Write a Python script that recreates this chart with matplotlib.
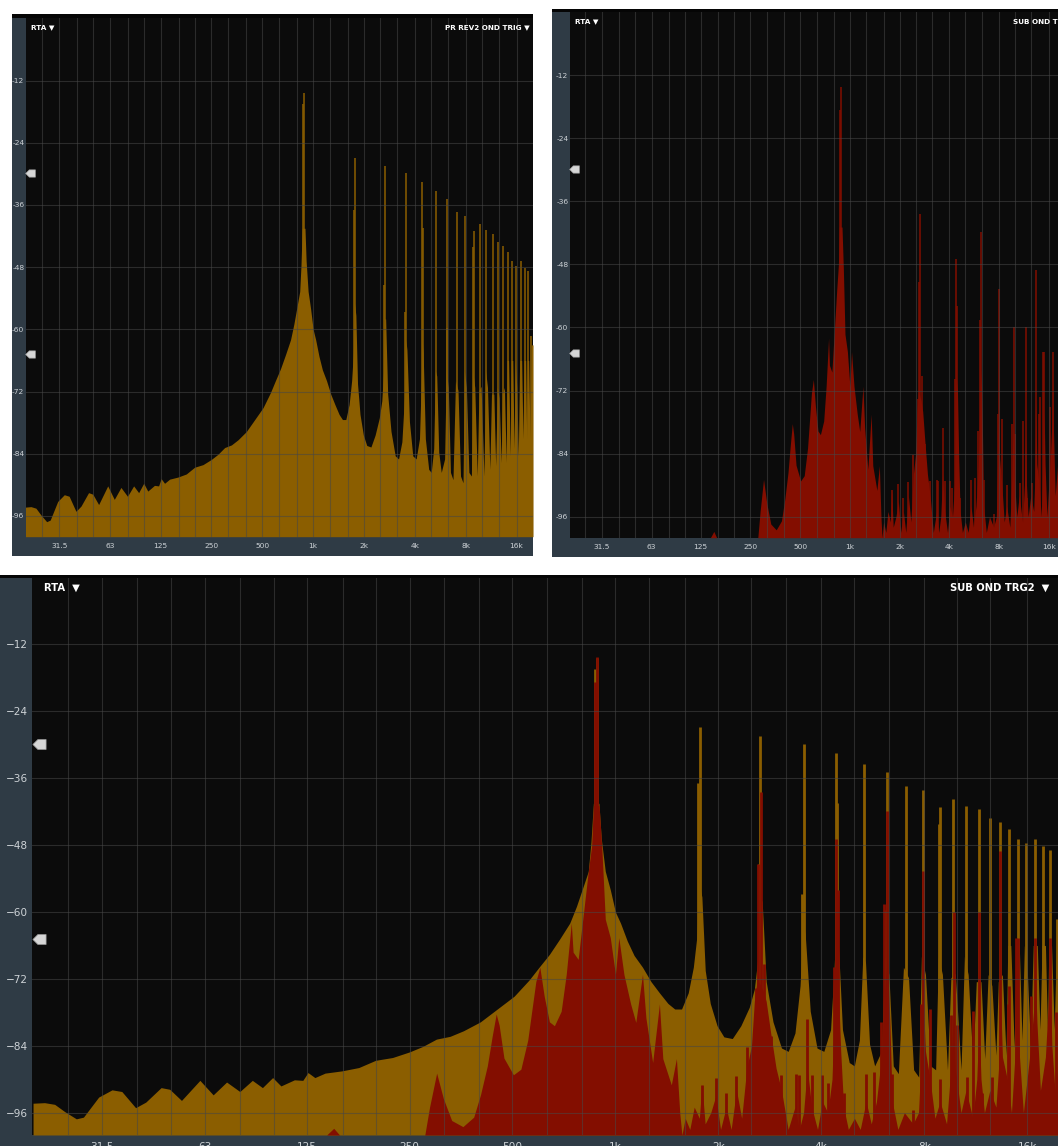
import numpy as np
import matplotlib
matplotlib.use("Agg")
from matplotlib import pyplot as plt
from matplotlib.path import Path
from matplotlib.ticker import NullFormatter
import matplotlib.transforms as mtransforms

W, H = 1058, 1146

# grid / ticks
grid_freqs = [25, 31.5, 40, 50, 63, 80, 100, 125, 160, 200, 250, 315, 400, 500, 630, 800,
              1000, 1250, 1600, 2000, 2500, 3150, 4000, 5000, 6300, 8000, 10000, 12500, 16000]
label_freqs = [31.5, 63, 125, 250, 500, 1000, 2000, 4000, 8000, 16000]
freq_labels = ["31.5", "63", "125", "250", "500", "1k", "2k", "4k", "8k", "16k"]
db_ticks = [-12, -24, -36, -48, -60, -72, -84, -96]
marker_levels = [-29.8, -64.8]

# orange trace (PR REV2 OND TRIG) - body outline
orange_f = [19.8, 21.4, 22.9, 24.5, 26.5, 27.8, 30.8, 33.7, 36.0, 39.5, 42.3, 46.9, 49.7, 53.8,
            60.9, 66.6, 72.9, 79.7, 86.7, 92.8, 99.4, 105.1, 115.1, 121.8, 126.1, 132.1, 141.5,
            158.4, 177.6, 198.9, 222.9, 249.7, 273.5, 299.6, 328.4, 359.5, 402.8, 451.3, 505.6,
            559, 598, 641, 686, 735, 769, 805, 833, 848, 862, 895, 909, 934, 966, 1000, 1035,
            1083, 1134, 1200, 1271, 1345, 1424, 1491, 1561, 1633, 1690, 1729, 1760, 1790, 1831,
            1894, 1983, 2076, 2197, 2327, 2463, 2549, 2608, 2650, 2686, 2761, 2890, 3060, 3202,
            3351, 3468, 3540, 3590, 3714, 3887, 4069, 4259, 4358, 4420, 4479, 4614, 4829, 4997,
            5171, 5291, 5388, 5537, 5730, 5998, 6136, 6306, 6496, 6723, 6957, 7199, 7450, 7709,
            7851, 8069, 8350, 8641, 8800, 9044, 9359, 9575, 9863, 10252, 10489, 10755, 11105,
            11361, 11730, 12027, 12305, 12617, 12967, 13177, 13542, 13886, 14045, 14337, 14668,
            14870, 15179, 15458, 15708, 16037, 16370, 16672, 17136, 17452, 17693, 18101, 18351,
            18519, 18861, 19206, 19560, 20010]
orange_db = [-94.3, -94.2, -94.5, -95.8, -97.1, -96.8, -93.2, -91.9, -92.2, -95.1, -94.1, -91.5,
             -91.8, -93.8, -90.2, -92.8, -90.5, -92.2, -90.2, -91.5, -89.7, -91.2, -90.1, -90.2,
             -88.8, -89.7, -88.9, -88.5, -87.9, -86.6, -86.1, -85.1, -84.1, -82.8, -82.3, -81.3,
             -79.7, -77.4, -75.1, -72.2, -69.9, -67.6, -64.9, -62.0, -59.0, -55.4, -52.7, -47.5,
             -40.5, -40.5, -46.8, -52.7, -56.0, -60.0, -62.0, -65.2, -67.8, -69.9, -72.5, -74.5,
             -76.4, -77.4, -77.4, -74.5, -69.9, -64.6, -55.0, -57.3, -70.5, -76.4, -80.4, -82.4,
             -82.7, -80.4, -77.1, -73.8, -68.5, -58.0, -58.0, -72.5, -79.7, -84.4, -85.0, -81.7,
             -73.2, -62.0, -64.0, -77.8, -84.4, -85.0, -81.1, -70.5, -62.0, -64.6, -81.1, -87.0,
             -87.6, -83.0, -68.0, -69.0, -83.7, -87.6, -85.0, -67.9, -71.2, -87.6, -89.0, -69.9,
             -71.8, -88.3, -89.6, -68.0, -71.2, -87.6, -88.3, -68.0, -71.2, -88.3, -71.8, -71.0,
             -88.3, -68.0, -71.2, -87.0, -72.5, -72.5, -86.3, -71.2, -73.2, -85.7, -72.5, -71.2,
             -85.7, -66.0, -66.0, -84.4, -66.0, -66.0, -83.0, -66.0, -71.2, -84.4, -66.0, -66.0,
             -81.1, -66.0, -66.0, -81.1, -66.0, -66.0, -81.1, -63.0, -63.0]

# orange harmonic lines
orange_peak_f = [870, 884, 1749, 1769, 2638, 2656, 3516, 3549, 4408, 4450, 5327, 6180, 6220,
                 7085, 7941, 8840, 8901, 9729, 10609, 11570, 12446, 13358, 14174, 15006, 15855,
                 16903, 17855, 18647, 19560]
orange_peak_db = [-16.5, -14.4, -36.9, -26.9, -51.4, -28.5, -56.7, -29.8, -31.5, -40.4, -33.4,
                  -59.7, -34.9, -37.4, -38.2, -44.2, -41.1, -39.7, -40.9, -41.6, -43.1, -43.9,
                  -45.1, -46.9, -47.7, -46.9, -48.1, -48.8, -61.3]

# red trace (SUB OND TRG2) - body outline
red_f = [20, 143, 150, 156, 277, 286, 300, 314, 332, 358, 385, 403, 422, 436, 448, 457, 472, 503,
         529, 554, 585, 601, 619, 641, 663, 694, 718, 743, 752, 778, 805, 833, 852, 862, 896, 913,
         934, 966, 1000, 1023, 1059, 1108, 1147, 1200, 1228, 1285, 1345, 1376, 1457, 1508, 1543,
         1565, 1600, 1650, 1700, 1760, 1790, 1830, 1900, 1966, 2030, 2108, 2180, 2260, 2340,
         2422, 2500, 2549, 2600, 2700, 2760, 2850, 2950, 3060, 3200, 3350, 3450, 3550, 3640,
         3750, 3900, 4030, 4180, 4300, 4358, 4420, 4480, 4560, 4650, 4800, 5000, 5200, 5410,
         5600, 5800, 6000, 6110, 6240, 6350, 6450, 6700, 7000, 7420, 7700, 7851, 7941, 8069,
         8320, 8600, 8900, 9300, 9575, 9729, 9863, 10250, 10600, 11100, 11400, 11570, 11730,
         12000, 12450, 12970, 13200, 13360, 13550, 14000, 14400, 14800, 15000, 15200, 15600,
         16000, 16400, 16700, 16900, 17100, 17500, 18100, 18500, 18700, 18900, 19300, 19700,
         20000]
red_db = [-100, -100, -98.8, -100, -100, -95.0, -88.9, -93.5, -97.4, -98.5, -96.8, -92.8, -87.6,
          -82.3, -78.3, -80.3, -86.2, -89.2, -88.2, -83.0, -72.5, -69.9, -75.1, -79.7, -80.4,
          -77.8, -71.2, -62.0, -67.2, -68.5, -60.6, -52.7, -48.1, -40.9, -40.9, -48.8, -61.3,
          -64.6, -71.2, -64.6, -71.2, -76.5, -79.8, -71.2, -79.0, -87.0, -76.5, -86.3, -91.0,
          -86.3, -96.2, -100, -97, -99, -95, -97, -91, -98, -96, -93, -99, -95, -99, -92, -97,
          -88, -84, -76, -72, -74, -76, -82, -88, -92, -99, -95, -99, -96, -88, -95, -99, -94,
          -96, -90, -80, -70, -72, -85, -95, -99, -97, -99, -94, -98, -94, -86, -75, -68, -80,
          -94, -99, -96, -98, -96, -85, -75, -85, -90, -97, -94, -98, -88, -78, -88, -96, -92,
          -97, -90, -80, -90, -96, -92, -95, -88, -74, -86, -90, -96, -84, -76, -86, -96, -90,
          -84, -78, -70, -80, -92, -86, -75, -72, -84, -92, -88, -90]

# red harmonic / spurious lines
red_peak_f = [874, 886, 1790, 1966, 2108, 2260, 2422, 2575, 2608, 2661, 2723, 2852, 3060, 3370,
              3437, 3640, 3750, 4030, 4180, 4358, 4410, 4480, 4650, 5410, 5700, 6000, 6110, 6240,
              6450, 7420, 7851, 7941, 8320, 8900, 9575, 9790, 9950, 10700, 11105, 11570, 11800,
              12600, 13360, 14050, 14200, 14850, 15050, 16370, 16900, 18650, 19400]
red_peak_db = [-18.7, -14.2, -91.0, -89.7, -92.4, -89.4, -84.2, -73.7, -51.4, -38.5, -69.3,
               -82.2, -89.3, -89.0, -89.3, -79.2, -89.3, -89.3, -90.6, -69.9, -46.9, -56.0,
               -92.4, -89.0, -88.7, -79.7, -58.6, -41.8, -89.0, -95.5, -76.5, -52.7, -77.4,
               -90.0, -78.4, -60.0, -80.2, -89.6, -77.8, -60.0, -92.4, -89.6, -49.1, -76.5,
               -73.2, -64.6, -64.6, -75.1, -64.6, -64.6, -78.0]

ORANGE = "#8b5e00"
RED = "#830e00"
FRAME = "#2f3b45"
PLOT_BG = "#0b0b0b"
TXT = "#cdd2d6"


def rect(l, t, r, b):
    return [l / W, 1 - b / H, (r - l) / W, (b - t) / H]


def plain_axes(fig, box, color):
    a = fig.add_axes(rect(*box))
    a.set_facecolor(color)
    a.set_xticks([])
    a.set_yticks([])
    for s in a.spines.values():
        s.set_visible(False)
    return a


marker_path = Path([(-1, 0), (-0.25, 0.75), (1, 0.75), (1, -0.75), (-0.25, -0.75), (-1, 0)],
                   [Path.MOVETO, Path.LINETO, Path.LINETO, Path.LINETO, Path.LINETO, Path.CLOSEPOLY])


def panel(fig, frame, plot, xlim, show_orange, show_red, big, left_title, right_title,
          right_x, right_ha):
    plain_axes(fig, frame, FRAME)
    plain_axes(fig, (frame[0], frame[1], frame[2], plot[1]), "#050505")
    ax = fig.add_axes(rect(*plot))
    ax.set_facecolor(PLOT_BG)
    ax.set_xscale("log")
    ax.set_xlim(*xlim)
    ax.set_ylim(-100, 0)
    for s in ax.spines.values():
        s.set_visible(False)

    lw = 2.0 if big else 1.1
    if show_orange:
        ax.fill_between(orange_f, orange_db, -100, color=ORANGE, lw=0, zorder=1.0)
        ax.vlines(orange_peak_f, -100, orange_peak_db, color=ORANGE, lw=lw, zorder=1.1)
    if show_red:
        ax.fill_between(red_f, red_db, -100, color=RED, lw=0, zorder=1.4)
        ax.vlines(red_peak_f, -100, red_peak_db, color=RED, lw=lw, zorder=1.5)

    ax.set_axisbelow(False)
    ax.set_xticks(label_freqs)
    ax.set_xticks(grid_freqs, minor=True)
    ax.xaxis.set_minor_formatter(NullFormatter())
    ax.set_yticks(db_ticks)
    if big:
        fs, ypad, xpad = 7.6, 2.9, 5.0
        ylabels = ["\u2212" + str(-v) for v in db_ticks]
    else:
        fs, ypad, xpad = 5.4, 1.2, 4.6
        ylabels = [str(v) for v in db_ticks]
    ax.set_xticklabels(freq_labels, family="DejaVu Sans", fontsize=fs, color=TXT)
    ax.set_yticklabels(ylabels, family="DejaVu Sans", fontsize=fs, color=TXT)
    ax.tick_params(which="both", length=0)
    ax.tick_params(axis="y", pad=ypad)
    ax.tick_params(axis="x", pad=xpad)
    ax.grid(which="both", axis="x", color="#474747", alpha=0.55, lw=0.8)
    ax.grid(which="major", axis="y", color="#474747", alpha=0.55, lw=0.8)

    # level markers on the left edge
    tr = mtransforms.blended_transform_factory(ax.transAxes, ax.transData)
    pw = (plot[2] - plot[0])
    mx = (7.0 if big else 3.5) / pw
    for lv in marker_levels:
        ax.plot([mx], [lv], marker=marker_path, ms=9.5 if big else 7, color="#d6d6d6",
                mec="#9c9c9c", mew=0.5, transform=tr, clip_on=False, zorder=5)

    tfs = 7.2 if big else 5.2
    ax.text(0.0114 if big else 0.0105, 0.982, left_title, transform=ax.transAxes, color="white",
            fontsize=tfs, family="DejaVu Sans", fontweight="bold", va="center", ha="left",
            zorder=6)
    ax.text(right_x, 0.982, right_title, transform=ax.transAxes, color="white",
            fontsize=tfs, family="DejaVu Sans", fontweight="bold", va="center", ha=right_ha,
            zorder=6, clip_on=False)
    return ax


fig = plt.figure(figsize=(W / 100, H / 100), dpi=100, facecolor="white")

panel(fig, (12, 14, 533, 556), (26, 18.3, 533, 536.7), (20, 20000), True, False, False,
      "RTA \u25bc", "PR REV2 OND TRIG \u25bc", 0.993, "right")
panel(fig, (552, 9, 1058, 557), (570, 12, 1058, 537.7), (20.2, 18200), False, True, False,
      "RTA \u25bc", "SUB OND TRG2 \u25bc", 0.907, "left")
panel(fig, (0, 575, 1058, 1146), (32.3, 577.5, 1058, 1135), (19.7, 19700), True, True, True,
      "RTA  \u25bc", "SUB OND TRG2  \u25bc", 0.992, "right")

fig.savefig("out.png", dpi=100, facecolor="white")
